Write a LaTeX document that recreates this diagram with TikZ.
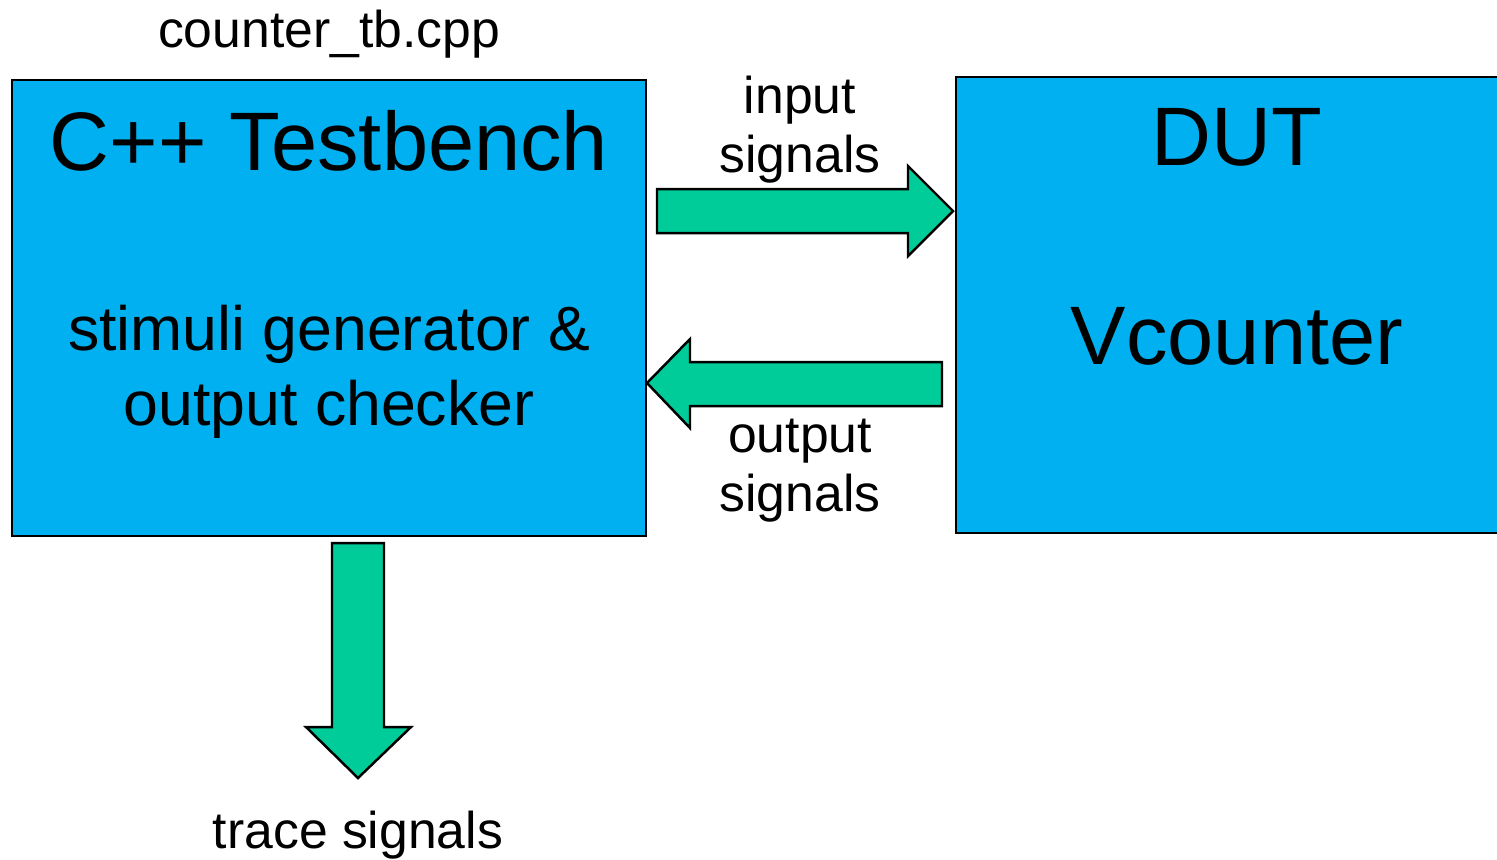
\documentclass[tikz,border=0pt]{standalone}
\usepackage{fontspec}
\setmainfont{Liberation Sans}
\usepackage{tikz}
\usetikzlibrary{calc}
\definecolor{boxblue}{HTML}{00B0F0}
\definecolor{arrowgreen}{HTML}{00CC99}
\newcommand{\arrowRight}[4]{\draw[fatarrow] ( #1 , #3 ) -- ( #2 , #3 ) -- ( #2 , #3 - 23 ) -- ( #2 + 45 , #3 + 22 ) -- ( #2 , #4 + 23 ) -- ( #2 , #4 ) -- ( #1 , #4 ) -- cycle;}
\newcommand{\arrowLeft}[4]{\draw[fatarrow] ( #2 , #3 ) -- ( #1 + 43 , #3 ) -- ( #1 + 43 , #3 - 23 ) -- ( #1 , #3 + 21 ) -- ( #1 + 43 , #4 + 22 ) -- ( #1 + 43 , #4 ) -- ( #2 , #4 ) -- cycle;}
\newcommand{\arrowDown}[4]{\draw[fatarrow] ( #1 , #3 ) -- ( #2 , #3 ) -- ( #2 , #4 ) -- ( #2 + 27 , #4 ) -- ( #1 / 2 + #2 / 2 , #4 + 51 ) -- ( #1 - 26 , #4 ) -- ( #1 , #4 ) -- cycle;}
\tikzset{
  block/.style={draw=black, line width=0.7pt, fill=boxblue},
  fatarrow/.style={draw=black, line width=0.7pt, fill=arrowgreen, line join=miter},
  small/.style={anchor=base, inner sep=0pt, font=\fontsize{14.7}{16.6}\selectfont},
  mid/.style={anchor=base, inner sep=0pt, font=\fontsize{17.8}{21}\selectfont},
  big/.style={anchor=base, inner sep=0pt, font=\fontsize{23.6}{27}\selectfont}
}
\begin{document}
\begin{tikzpicture}[x=0.01cm, y=-0.01cm]
        \useasboundingbox ( 0 , 0 ) rectangle ( 1497 , 859 );
        % boxes
        \draw[block] ( 12 , 80 ) rectangle ( 646 , 536 );
        \draw[block] ( 956 , 77 ) rectangle ( 1505 , 533 );

        % arrows
        \arrowRight{657}{908}{189}{233}
        \arrowLeft{647}{942}{362}{406}
        \arrowDown{332}{384}{543}{727}

        % text
        \node[small] (file) at ( 329 , 47 ) {counter\_tb.cpp};
        \node[big] (tb) at ( 329 , 170 ) {C++ Testbench};
        \node[mid] (stim) at ( 329 , 350 ) {stimuli generator \&};
        \node[mid] (check) at ( 329 , 425 ) {output checker};
        \node[big] (dut) at ( 1237 , 165 ) {DUT};
        \node[big] (vc) at ( 1237 , 364 ) {Vcounter};
        \node[small] (in1) at ( 800 , 113 ) {input};
        \node[small] (in2) at ( 800 , 172 ) {signals};
        \node[small] (out1) at ( 800 , 452 ) {output};
        \node[small] (out2) at ( 800 , 511 ) {signals};
        \node[small] (trace) at ( 358 , 848 ) {trace signals};
    \end{tikzpicture}
\end{document}
